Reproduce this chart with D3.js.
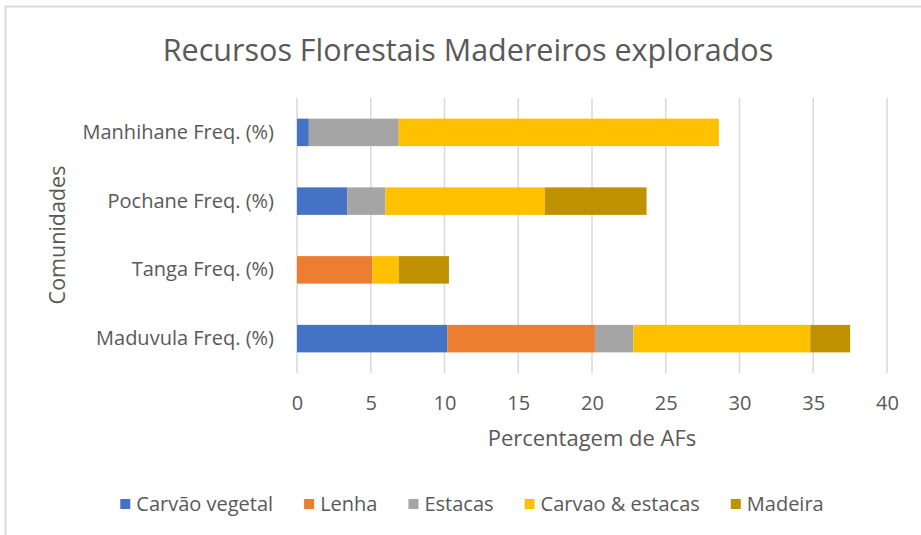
<!DOCTYPE html>
<html>
<head>
<meta charset="utf-8">
<script src="https://cdn.jsdelivr.net/npm/d3@7"></script>
<style>
  body { margin: 0; background: #fff; }
  text { font-family: "Open Sans", "Liberation Sans", sans-serif; fill: #595959; }
</style>
</head>
<body>
<div id="chart"></div>
<script>
var communities = ["Manhihane Freq. (%)", "Pochane Freq. (%)", "Tanga Freq. (%)", "Maduvula Freq. (%)"];
var seriesNames = ["Carvão vegetal", "Lenha", "Estacas", "Carvao & estacas", "Madeira"];
var carvaoVegetal = [0.8, 3.4, 0, 10.2];
var lenha = [0, 0, 5.1, 10.0];
var estacas = [6.1, 2.6, 0, 2.6];
var carvaoEstacas = [21.7, 10.8, 1.8, 12.0];
var madeira = [0, 6.9, 3.4, 2.7];
var xTicks = [0, 5, 10, 15, 20, 25, 30, 35, 40];
var colors = ["#4472C4", "#ED7D31", "#A5A5A5", "#FFC000", "#BF9000"];

var W = 921, H = 535;
var margin = { top: 98, right: 34, bottom: 162, left: 297 },
  width = W - margin.left - margin.right,
  height = H - margin.top - margin.bottom;

var rows = communities.map(function (c, i) {
  return { name: c, "Carvão vegetal": carvaoVegetal[i], "Lenha": lenha[i], "Estacas": estacas[i],
    "Carvao & estacas": carvaoEstacas[i], "Madeira": madeira[i] };
});
var stacked = d3.stack().keys(seriesNames)(rows);

var svg = d3.select("#chart").append("svg")
  .attr("width", W).attr("height", H);

// chart border (only top and left visible in frame)
svg.append("rect")
  .attr("x", 5.5).attr("y", 6.5)
  .attr("width", W + 10).attr("height", H + 10)
  .attr("fill", "none").attr("stroke", "#d9d9d9").attr("stroke-width", 2);

var g = svg.append("g")
  .attr("transform", "translate(" + margin.left + "," + margin.top + ")");

var x = d3.scaleLinear().domain([0, 40]).range([0, width]);
var y = d3.scaleBand().domain(communities).range([0, height])
  .paddingInner(0.6).paddingOuter(0.3);

// gridlines
g.append("g")
  .selectAll("line")
  .data(xTicks)
  .enter()
  .append("line")
  .attr("x1", function (d) { return x(d); })
  .attr("x2", function (d) { return x(d); })
  .attr("y1", 0).attr("y2", height)
  .attr("stroke", "#d9d9d9").attr("stroke-width", 1.5);

// bars
g.append("g")
  .selectAll("g")
  .data(stacked)
  .enter()
  .append("g")
  .attr("fill", function (d, i) { return colors[i]; })
  .selectAll("rect")
  .data(function (d) { return d; })
  .enter()
  .append("rect")
  .attr("x", function (d) { return x(d[0]); })
  .attr("y", function (d) { return y(d.data.name); })
  .attr("width", function (d) { return x(d[1]) - x(d[0]); })
  .attr("height", y.bandwidth());

// x axis
var xAxis = g.append("g")
  .attr("transform", "translate(0," + height + ")")
  .call(d3.axisBottom(x).tickValues(xTicks).tickSize(0).tickPadding(23));
xAxis.select(".domain").remove();
xAxis.selectAll("text").style("font-size", "20px").attr("fill", "#595959");

// y axis
var yAxis = g.append("g")
  .call(d3.axisLeft(y).tickSize(0).tickPadding(23));
yAxis.select(".domain").remove();
yAxis.selectAll("text").style("font-size", "20px").attr("fill", "#595959");

// title
svg.append("text")
  .attr("x", 468).attr("y", 61)
  .attr("text-anchor", "middle")
  .style("font-size", "30.5px")
  .text("Recursos Florestais Madereiros explorados");

// axis titles
svg.append("text")
  .attr("x", 592).attr("y", 446)
  .attr("text-anchor", "middle")
  .style("font-size", "22px")
  .text("Percentagem de AFs");

svg.append("text")
  .attr("transform", "translate(65,235) rotate(-90)")
  .attr("text-anchor", "middle")
  .style("font-size", "21.5px")
  .text("Comunidades");

// legend
var legend = svg.append("g").attr("transform", "translate(0,504)");
var items = legend.selectAll("g")
  .data(seriesNames)
  .enter()
  .append("g");
items.append("rect")
  .attr("width", 10).attr("height", 10).attr("y", -5)
  .attr("fill", function (d, i) { return colors[i]; });
items.append("text")
  .attr("x", 16).attr("dy", "0.35em")
  .style("font-size", "20px")
  .text(function (d) { return d; });
var widths = [];
items.each(function () { widths.push(this.getBBox().width); });
var gap = 31;
var total = d3.sum(widths) + gap * (widths.length - 1);
var pos = 472 - total / 2;
items.attr("transform", function (d, i) {
  var t = "translate(" + pos + ",0)";
  pos += widths[i] + gap;
  return t;
});
</script>
</body>
</html>
